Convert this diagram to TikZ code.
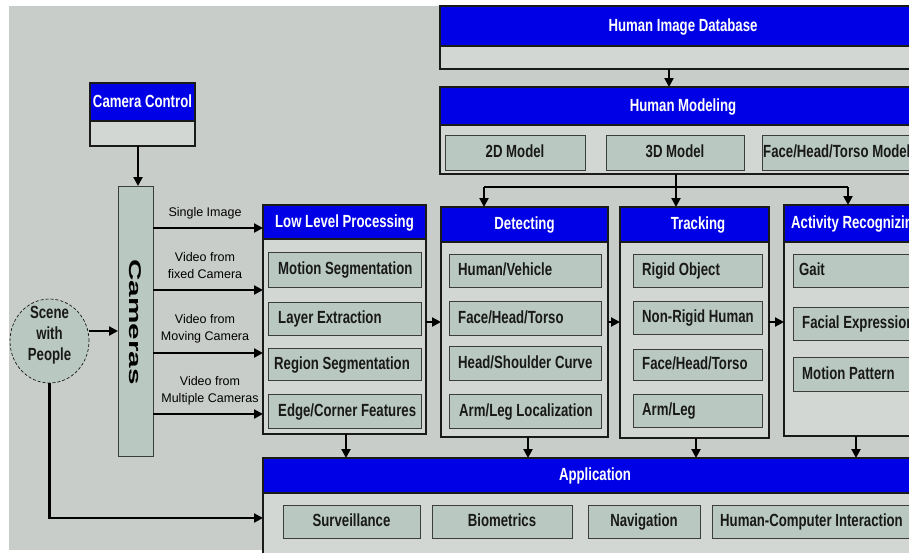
\documentclass[tikz,border=0pt]{standalone}
\usepackage{fontspec}
\setmainfont{Liberation Sans}
\newfontfamily\nb[FakeStretch=0.75]{Liberation Sans}
\newfontfamily\wf[FakeStretch=1.75]{Liberation Sans}
\usetikzlibrary{arrows.meta,shapes.geometric}
\definecolor{bgc}{HTML}{C9CDC9}
\definecolor{panelc}{HTML}{D3D7D3}
\definecolor{subc}{HTML}{B9C9C1}
\definecolor{hdrc}{HTML}{0000E6}
\definecolor{linec}{HTML}{1A1A1A}
\newcommand\hfont{\nb\bfseries\fontsize{17.6}{21}\selectfont}
\newcommand\lfont{\fontsize{12.5}{17}\selectfont}
\newcommand\bx[6]{\node[#2,anchor=north west,minimum width={(#5-#3)*1pt},minimum height={(#6-#4)*1pt}] (#1) at (#3,#4) {};}
\tikzset{
 panel/.style={draw=linec, line width=1.2pt, fill=panelc, inner sep=0pt, outer sep=0pt},
 hdr/.style={draw=linec, line width=1.2pt, fill=hdrc, inner sep=0pt, outer sep=0pt},
 sub/.style={draw=linec!85, line width=1pt, fill=subc, inner sep=0pt, outer sep=0pt},
 ht/.style={font=\hfont, text=white, inner sep=0pt, text height=13pt, text depth=3pt},
 st/.style={font=\hfont, text=black!90, inner sep=0pt, text height=13pt, text depth=3pt},
 lst/.style={st, anchor=west},
 vlbl/.style={font=\lfont, align=center, inner sep=0pt},
 conn/.style={line width=2.2pt, draw=black},
 arr/.style={conn, -{Triangle[length=9pt,width=9pt]}},
}
\begin{document}
\begin{tikzpicture}[x=1pt,y=-1pt]
\useasboundingbox (0,0) rectangle (909,552);
\clip (0,0) rectangle (909,552);
\fill[white] (0,0) rectangle (909,552);
\fill[bgc] (9,6) rectangle (909,550);

% Human image database and modeling
\bx{hid}{panel}{440}{6}{933}{69}
\bx{hidh}{hdr}{440}{6}{933}{46}
\node[ht] (hidt) at (683,26) {Human Image Database};
\bx{hm}{panel}{440}{87}{933}{174}
\bx{hmh}{hdr}{440}{87}{933}{125}
\node[ht] (hmt) at (683,106) {Human Modeling};
\bx{m2}{sub}{445}{135}{585}{170}
\node[st] (m2t) at (m2.center) {2D Model};
\bx{m3}{sub}{606}{135}{744}{170}
\node[st] (m3t) at (m3.center) {3D Model};
\bx{mf}{sub}{762}{135}{933}{170}
\node[lst] (mft) at (763,152.5) {Face/Head/Torso Model};

% Camera control, cameras, scene
\bx{cc}{panel}{90}{83}{195}{146}
\bx{cch}{hdr}{90}{83}{195}{121}
\node[ht] (cct) at (cch.center) {Camera Control};
\bx{cam}{sub}{118}{186}{153}{456}
\node[font=\wf\bfseries\fontsize{17}{20}\selectfont, rotate=-90, inner sep=0pt] (camt) at (135.5,322) {Cameras};
\node[ellipse, draw=linec, densely dashed, line width=0.7pt, fill=subc, minimum width=79pt, minimum height=84pt, inner sep=0pt] (scene) at (49.5,341) {};
\node[st, align=center, text height=, text depth=] (scenet) at (49.5,335) {Scene\\with\\People};

% Low level processing
\bx{llp}{panel}{263}{205}{426}{434}
\bx{llph}{hdr}{263}{205}{426}{239}
\node[ht] (llpt) at (llph.center) {Low Level Processing};
\bx{l1}{sub}{268}{252}{421}{287}
\node[lst] (l1t) at (278,269.5) {Motion Segmentation};
\bx{l2}{sub}{268}{302}{421}{335}
\node[lst] (l2t) at (278,318.5) {Layer Extraction};
\bx{l3}{sub}{268}{348}{421}{380}
\node[lst] (l3t) at (274,364) {Region Segmentation};
\bx{l4}{sub}{268}{394}{421}{428}
\node[lst] (l4t) at (278,411) {Edge/Corner Features};

% Detecting
\bx{det}{panel}{441}{207}{608}{437}
\bx{deth}{hdr}{441}{207}{608}{242}
\node[ht] (dett) at (deth.center) {Detecting};
\bx{d1}{sub}{449}{254}{601}{287}
\node[lst] (d1t) at (458,270.5) {Human/Vehicle};
\bx{d2}{sub}{449}{301}{601}{335}
\node[lst] (d2t) at (458,318) {Face/Head/Torso};
\bx{d3}{sub}{449}{346}{601}{380}
\node[lst] (d3t) at (458,363) {Head/Shoulder Curve};
\bx{d4}{sub}{449}{394}{601}{428}
\node[lst] (d4t) at (459,411) {Arm/Leg Localization};

% Tracking
\bx{trk}{panel}{620}{207}{769}{438}
\bx{trkh}{hdr}{620}{207}{769}{242}
\node[ht] (trkt) at (698,224.5) {Tracking};
\bx{t1}{sub}{633}{254}{762}{287}
\node[lst] (t1t) at (642,270.5) {Rigid Object};
\bx{t2}{sub}{633}{301}{762}{334}
\node[lst] (t2t) at (642,317.5) {Non-Rigid Human};
\bx{t3}{sub}{633}{349}{762}{380}
\node[lst] (t3t) at (642,364.5) {Face/Head/Torso};
\bx{t4}{sub}{633}{394}{762}{427}
\node[lst] (t4t) at (642,410.5) {Arm/Leg};

% Activity recognizing
\bx{act}{panel}{784}{205}{933}{436}
\bx{acth}{hdr}{784}{205}{933}{242}
\node[ht, anchor=west] (actt) at (791,223.5) {Activity Recognizing};
\bx{a1}{sub}{793}{254}{933}{287}
\node[lst] (a1t) at (799,270.5) {Gait};
\bx{a2}{sub}{793}{307}{933}{340}
\node[lst] (a2t) at (802,323.5) {Facial Expression};
\bx{a3}{sub}{793}{357}{933}{391}
\node[lst] (a3t) at (802,374) {Motion Pattern};

% Application
\bx{app}{panel}{263}{458}{933}{565}
\bx{apph}{hdr}{263}{458}{933}{493}
\node[ht] (appt) at (595,475.5) {Application};
\bx{p1}{sub}{283}{505}{420}{538}
\node[st] (p1t) at (p1.center) {Surveillance};
\bx{p2}{sub}{432}{505}{572}{538}
\node[st] (p2t) at (p2.center) {Biometrics};
\bx{p3}{sub}{588}{505}{700}{538}
\node[st] (p3t) at (p3.center) {Navigation};
\bx{p4}{sub}{712}{505}{933}{538}
\node[lst] (p4t) at (720,521.5) {Human-Computer Interaction};

% camera labels
\node[vlbl] (v0) at (205,213) {Single Image};
\node[vlbl] (v1) at (205,266) {Video from\\fixed Camera};
\node[vlbl] (v2) at (205,329) {Video from\\Moving Camera};
\node[vlbl] (v3) at (210,391) {Video from\\Multiple Cameras};

% helper coordinates
\coordinate (y1) at (0,228);
\coordinate (y2) at (0,290);
\coordinate (y3) at (0,353);
\coordinate (y4) at (0,414);
\coordinate (ym) at (0,322);
\coordinate (ys) at (0,331);
\coordinate (ya) at (0,518);
\coordinate (xa) at (669,0);
\coordinate (xb) at (676,0);
\coordinate (jb) at (676,187);
\coordinate (jl) at (484,187);
\coordinate (jr) at (848,187);
\coordinate (xc) at (138,0);
\coordinate (x1) at (346,0);
\coordinate (x2) at (528,0);
\coordinate (x3) at (696,0);
\coordinate (x4) at (856,0);

% connectors
\draw[arr] (cc.south -| xc) -- (cam.north -| xc);
\draw[arr] (cam.east |- y1) -- (llp.west |- y1);
\draw[arr] (cam.east |- y2) -- (llp.west |- y2);
\draw[arr] (cam.east |- y3) -- (llp.west |- y3);
\draw[arr] (cam.east |- y4) -- (llp.west |- y4);
\draw[arr] (scene.east |- ys) -- (cam.west |- ys);
\draw[arr] (scene.south) |- (app.west |- ya);
\draw[arr] (llp.east |- ym) -- (det.west |- ym);
\draw[arr] (det.east |- ym) -- (trk.west |- ym);
\draw[arr] (trk.east |- ym) -- (act.west |- ym);
\draw[arr] (hid.south -| xa) -- (hm.north -| xa);
\draw[conn] (hm.south -| xb) -- (jb);
\draw[conn] (jl) -- (jr);
\draw[arr] (jl) -- (det.north -| jl);
\draw[arr] (jb) -- (trk.north -| jb);
\draw[arr] (jr) -- (act.north -| jr);
\draw[arr] (llp.south -| x1) -- (app.north -| x1);
\draw[arr] (det.south -| x2) -- (app.north -| x2);
\draw[arr] (trk.south -| x3) -- (app.north -| x3);
\draw[arr] (act.south -| x4) -- (app.north -| x4);
\end{tikzpicture}
\end{document}
